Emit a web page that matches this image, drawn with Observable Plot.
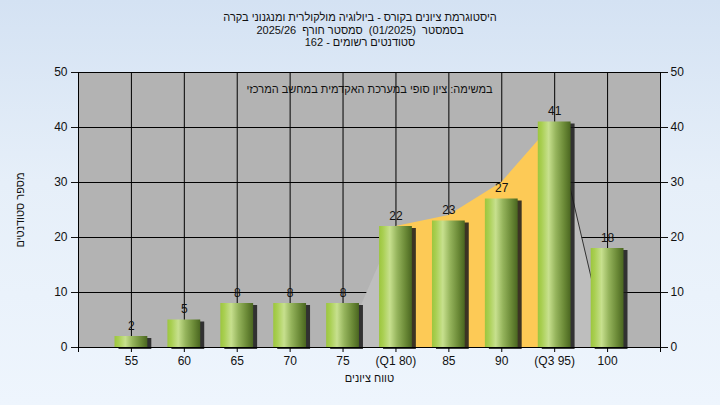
<!DOCTYPE html>
<html><head><meta charset="utf-8">
<script src="https://cdn.jsdelivr.net/npm/d3@7"></script>
<script src="https://cdn.jsdelivr.net/npm/@observablehq/plot@0.6"></script>
<style>
html,body{margin:0;padding:0;}
#wrap{position:relative;width:720px;height:405px;overflow:hidden;
  background:linear-gradient(to bottom,#d4e2f3 0%,#e6eff9 45%,#eef5fd 100%);
  font-family:"Liberation Sans",Arial,sans-serif;}
.ttl{position:absolute;left:0;width:720px;text-align:center;font-size:11px;color:#111;line-height:12px;}
</style>
</head><body>
<div id="wrap">
  <div class="ttl" dir="rtl" style="top:11px">היסטוגרמת ציונים בקורס - ביולוגיה מולקולרית ומנגנוני בקרה</div>
  <div class="ttl" dir="rtl" style="top:23.5px">בסמסטר&nbsp; (01/2025)&nbsp; סמסטר חורף&nbsp; 2025/26</div>
  <div class="ttl" dir="rtl" style="top:36px">סטודנטים רשומים - 162</div>
  <div id="chart"></div>
</div>
<script>
const scores = [55, 60, 65, 70, 75, 80, 85, 90, 95, 100];
const counts = [2, 5, 8, 8, 8, 22, 23, 27, 41, 18];
const tickScores = [50, 55, 60, 65, 70, 75, 80, 85, 90, 95, 100, 105];
const tickLabels = ["", "55", "60", "65", "70", "75", "(Q1 80)", "85", "90", "(Q3 95)", "100", ""];
const yTicks = [0, 10, 20, 30, 40, 50];
const leftTailX = [75, 80];
const leftTailY = [0, 22];
const bandX = [80, 85, 90, 95];
const bandY = [22, 24, 30, 41];
const rightTailX = [95, 100];
const rightTailY = [41, 0];
const titleNote = "במשימה: ציון סופי במערכת האקדמית במחשב המרכזי";
const yLabel = "מספר סטודנטים";
const xLabel = "טווח ציונים";

const table = scores.map((s, i) => ({score: s, count: counts[i]}));
const pts = (xs, ys) => xs.map((x, i) => ({x, y: ys[i]}));
const labelOf = new Map(tickScores.map((s, i) => [s, tickLabels[i]]));
const halfW = 1.55;

const defs = () => {
  const g = d3.create("svg:g");
  g.html(`<defs>
    <linearGradient id="barGrad" x1="0" x2="1" y1="0" y2="0">
      <stop offset="0" stop-color="#9cc63e"/>
      <stop offset="0.12" stop-color="#a9cf52"/>
      <stop offset="0.33" stop-color="#c7e08e"/>
      <stop offset="0.55" stop-color="#95b45c"/>
      <stop offset="0.8" stop-color="#6b8a37"/>
      <stop offset="1" stop-color="#4a6620"/>
    </linearGradient>
    <filter id="shadowBlur" x="-50%" y="-20%" width="200%" height="140%">
      <feGaussianBlur stdDeviation="2.2"/>
    </filter>
  </defs>`);
  return g.node();
};

const chart = Plot.plot({
  width: 720, height: 405,
  marginLeft: 78, marginRight: 60, marginTop: 72, marginBottom: 58,
  style: {background: "transparent", fontFamily: "'Liberation Sans', Arial, sans-serif", fontSize: "12px", color: "#111"},
  x: {type: "linear", domain: [50, 105]},
  y: {domain: [0, 50]},
  marks: [
    defs,
    Plot.frame({fill: "#b3b3b3", stroke: null}),
    Plot.gridY(yTicks, {stroke: "#000", strokeOpacity: 1}),
    Plot.gridX(scores, {stroke: "#000", strokeOpacity: 1}),
    Plot.areaY(pts(leftTailX, leftTailY), {x: "x", y: "y", fill: "#bebebe"}),
    Plot.areaY(pts(rightTailX, rightTailY), {x: "x", y: "y", fill: "#bebebe"}),
    Plot.areaY(pts(bandX, bandY), {x: "x", y: "y", fill: "#fdca56"}),
    Plot.line(pts(rightTailX, rightTailY), {x: "x", y: "y", stroke: "#333", strokeWidth: 1}),
    Plot.rectY(table, {x1: d => d.score - halfW, x2: d => d.score + halfW, y: "count", fill: "#1a1a1a", fillOpacity: 0.85, dx: 4, dy: 2, ariaLabel: "bar-shadow"}),
    Plot.rectY(table, {x1: d => d.score - halfW, x2: d => d.score + halfW, y: "count", fill: "url(#barGrad)"}),
    Plot.text(table, {x: "score", y: "count", text: d => String(d.count), dy: -7, lineAnchor: "bottom", fill: "#111", fontSize: 12}),
    Plot.frame({stroke: "#000"}),
    Plot.axisX({ticks: tickScores, tickFormat: d => labelOf.get(d), tickSize: 5, tickPadding: 4, label: null, stroke: "#000"}),
    Plot.axisY({anchor: "left", ticks: yTicks, tickSize: 7, tickPadding: 4, label: null}),
    Plot.axisY({anchor: "right", ticks: yTicks, tickSize: 7, tickPadding: 3, label: null}),
    Plot.text([titleNote], {frameAnchor: "top", dy: 13, text: d => d, fill: "#111", fontSize: 11}),
    Plot.text([yLabel], {frameAnchor: "left", dx: -58, rotate: -90, textAnchor: "middle", text: d => d, fill: "#111", fontSize: 11}),
    Plot.text([xLabel], {frameAnchor: "bottom", dy: 34, text: d => d, fill: "#111", fontSize: 11})
  ]
});
const sh = chart.querySelector('[aria-label="bar-shadow"]');
if (sh) sh.setAttribute("filter", "url(#shadowBlur)");
document.getElementById("chart").appendChild(chart);
</script>
</body></html>
